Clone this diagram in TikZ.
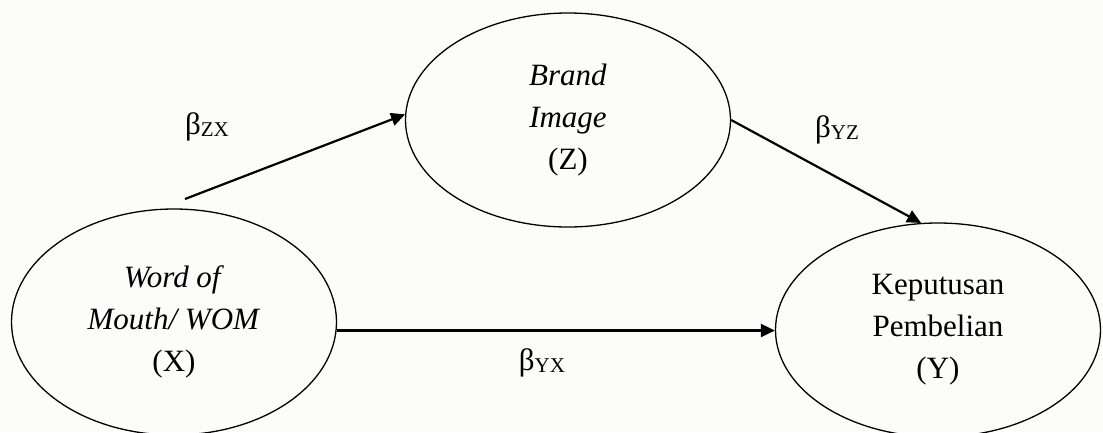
\documentclass[tikz,border=0pt]{standalone}
\usepackage{fontspec}
\setmainfont{Liberation Serif}
\usetikzlibrary{shapes.geometric,arrows.meta}
\definecolor{bgc}{RGB}{252,253,249}
\tikzset{
  var/.style={draw=black, line width=1.3pt, ellipse, inner sep=0pt,
    minimum width=325pt, minimum height=214pt, align=center,
    font=\fontsize{31}{42}\selectfont},
  conn/.style={line width=2.2pt, -{Triangle[length=14pt,width=13pt]}},
  coef/.style={font=\fontsize{31}{31}\selectfont, inner sep=0pt}
}
\begin{document}
\begin{tikzpicture}[x=1pt,y=-1pt]
\fill[bgc] (0,0) rectangle (1103,432);
\useasboundingbox (0,0) rectangle (1103,432);
\node[var, minimum height=226pt] (X) at (174,322) {\textit{Word of}\\\textit{Mouth/ WOM}\\(X)};
\node[var] (Z) at (568,120) {\textit{Brand}\\\textit{Image}\\(Z)};
\node[var] (Y) at (938,330) {Keputusan\\Pembelian\\(Y)};
\coordinate (xs) at (185,199);
\draw[conn] (xs) -- (Z.178);
\draw[conn] (Z.east) -- (Y.99);
\draw[conn] (X.-3) -- (X.-3 -| Y.west);
\node[coef] (bzx) at (207,127) {β\raisebox{-0.15ex}{\fontsize{21}{21}\selectfont ZX}};
\node[coef] (byz) at (837,130) {β\raisebox{-0.15ex}{\fontsize{21}{21}\selectfont YZ}};
\node[coef] (byx) at (542,363) {β\raisebox{-0.15ex}{\fontsize{21}{21}\selectfont YX}};
\end{tikzpicture}
\end{document}
